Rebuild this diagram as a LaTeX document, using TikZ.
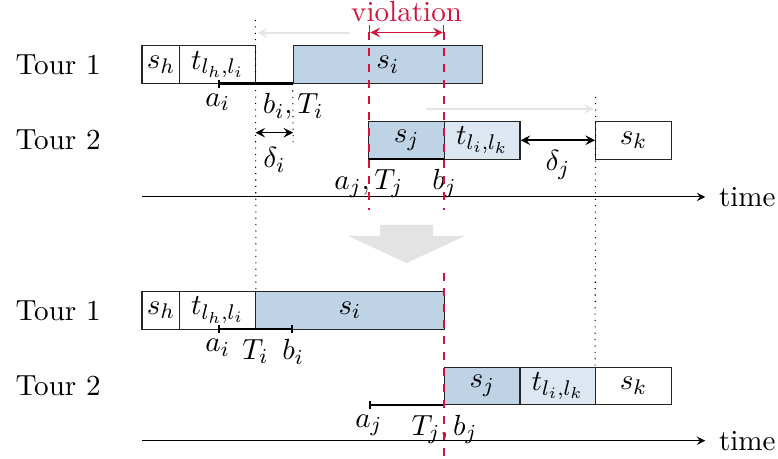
\documentclass[11pt,tikz,border=0pt]{standalone}
\usetikzlibrary{arrows.meta}
\definecolor{jobblue}{RGB}{191,211,230}
\definecolor{travelblue}{RGB}{221,231,242}
\definecolor{violred}{RGB}{210,20,60}
\begin{document}
\begin{tikzpicture}[>=stealth, x=0.5cm, y=0.5cm,
    box/.style={draw=black!85, minimum height=0.5cm, inner sep=0pt},
    job/.style={box, fill=jobblue},
    travel/.style={box, fill=travelblue},
    window/.style={thick},
    movearrow/.style={->, semithick, gray!20},
    viol/.style={violred, thick, dashed},
    timelabel/.style={right, inner sep=5pt}]
    \useasboundingbox (-3.757,-6.93) rectangle (16.825,5.21);
    % before the shift
    \node (tour1a) at (-2.22,3.5) {Tour 1};
    \node[box, minimum width=0.5cm] (sh1) at (0.5,3.5) {$s_h$};
    \node[box, minimum width=1cm] (th1) at (2,3.5) {$t_{l_h,l_i}$};
    \node[job, minimum width=2.5cm] (si1) at (6.5,3.5) {$s_i$};
    \coordinate (ai1) at (2,3);
    \coordinate (bi1) at (4,3);
    \draw[window, {Bar[width=3pt]}-] (ai1) -- (bi1);
    \node[below] (lai1) at (ai1) {$a_i$};
    \node[below] (lbi1) at (bi1) {$b_i,T_i$};
    \node (tour2a) at (-2.22,1.5) {Tour 2};
    \node[job, minimum width=1cm] (sj1) at (7,1.5) {$s_j$};
    \node[travel, minimum width=1cm] (tj1) at (9,1.5) {$t_{l_i,l_k}$};
    \node[box, minimum width=1cm] (sk1) at (13,1.5) {$s_k$};
    \coordinate (aj1) at (6,1);
    \coordinate (bj1) at (8,1);
    \draw[window] (aj1) -- (bj1);
    \node[below] (laj1) at (aj1) {$a_j,T_j$};
    \node[below] (lbj1) at (bj1) {$b_j$};
    \coordinate (di1) at (3,1.7);
    \coordinate (di2) at (4,1.7);
    \draw[<->, semithick] (di1) -- (di2);
    \node (ldi) at (3.5,0.98) {$\delta_i$};
    \draw[<->, semithick] (tj1.east) -- (sk1.west);
    \node (ldj) at (11,0.85) {$\delta_j$};
    \coordinate (t1) at (0,0);
    \node[timelabel] (time1) at (14.9,0) {time};
    \draw[->] (t1) -- (time1.west);
    % dotted guides and shifts
    \coordinate (d1) at (3,4.68);
    \coordinate (d2) at (4,1.45);
    \coordinate (d3) at (12,2.65);
    \coordinate (g1) at (5.5,4.34);
    \coordinate (g2) at (3.05,4.34);
    \coordinate (g3) at (7.5,2.33);
    \coordinate (g4) at (11.95,2.33);
    \draw[movearrow] (g1) -- (g2);
    \draw[movearrow] (g3) -- (g4);
    % violation
    \coordinate (v1) at (6,4.35);
    \coordinate (v2) at (8,4.35);
    \coordinate (v3) at (6,-0.35);
    \coordinate (v4) at (8,-0.35);
    \draw[violred, semithick, {|<->|}] (v1) -- (v2);
    \node[violred, anchor=base] (lviol) at (7,4.63) {violation};
    \draw[viol] (v1) -- (v3);
    \draw[viol] (v2) -- (v4);
    % big arrow
    \fill[gray!22] (6.3,-0.74) -- (7.7,-0.74) -- (7.7,-1.03) -- (8.55,-1.03)
        -- (7,-1.75) -- (5.45,-1.03) -- (6.3,-1.03) -- cycle;
    % after the shift
    \node (tour1b) at (-2.22,-3) {Tour 1};
    \node[box, minimum width=0.5cm] (sh2) at (0.5,-3) {$s_h$};
    \node[box, minimum width=1cm] (th2) at (2,-3) {$t_{l_h,l_i}$};
    \node[job, minimum width=2.5cm] (si2) at (5.5,-3) {$s_i$};
    \coordinate (ai2) at (2,-3.5);
    \coordinate (ti2) at (3,-3.5);
    \coordinate (bi2) at (4,-3.5);
    \draw[window, {Bar[width=3pt]}-{Bar[width=3pt]}] (ai2) -- (bi2);
    \node[below] (lai2) at (ai2) {$a_i$};
    \node[below] (lti2) at (ti2) {$T_i$};
    \node[below] (lbi2) at (bi2) {$b_i$};
    \node (tour2b) at (-2.22,-5) {Tour 2};
    \node[job, minimum width=1cm] (sj2) at (9,-5) {$s_j$};
    \node[travel, minimum width=1cm] (tj2) at (11,-5) {$t_{l_i,l_k}$};
    \node[box, minimum width=1cm] (sk2) at (13,-5) {$s_k$};
    \coordinate (aj2) at (6,-5.5);
    \coordinate (bj2) at (8,-5.5);
    \draw[window, {Bar[width=3pt]}-] (aj2) -- (bj2);
    \node[below] (laj2) at (aj2) {$a_j$};
    \node[below] (lbj2) at (bj2) {$T_j,b_j$};
    \coordinate (t2) at (0,-6.45);
    \node[timelabel] (time2) at (14.9,-6.45) {time};
    \draw[->] (t2) -- (time2.west);
    \coordinate (v5) at (8,-2.0);
    \coordinate (v6) at (8,-6.93);
    \draw[viol] (v5) -- (v6);
    \draw[dotted] (d1) -- (th2.north east);
    \draw[dotted] (si1.south west) -- (d2);
    \draw[dotted] (d3) -- (sk2.north west);
\end{tikzpicture}
\end{document}
